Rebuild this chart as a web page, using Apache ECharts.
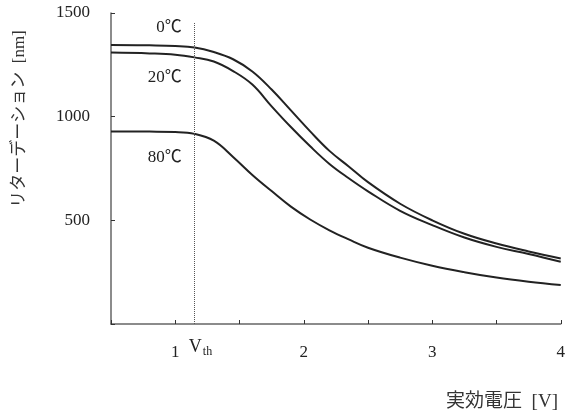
<!DOCTYPE html>
<html>
<head>
<meta charset="utf-8">
<script src="https://cdn.jsdelivr.net/npm/echarts@6/dist/echarts.min.js"></script>
<style>
    html, body { margin: 0; padding: 0; background: #fff; }
    #chart { width: 568px; height: 415px; }
</style>
</head>
<body>
<div id="chart"></div>
<script>
// 実効電圧 [V]
var voltage = [0.5, 0.8, 1.0, 1.15, 1.3, 1.45, 1.6, 1.75, 1.9, 2.05, 2.2, 2.35, 2.5, 2.75, 3.0, 3.25, 3.5, 3.75, 4.0];
// リターデーション [nm]
var ret0 = [1346, 1344, 1341, 1334, 1312, 1277, 1218, 1131, 1030, 929, 835, 760, 684, 580, 500, 435, 388, 350, 316];
var ret20 = [1309, 1305, 1299, 1286, 1266, 1220, 1155, 1050, 950, 857, 772, 703, 640, 546, 477, 417, 372, 338, 300];
var ret80 = [929, 928, 926, 917, 884, 806, 719, 641, 566, 504, 452, 408, 368, 320, 281, 250, 224, 204, 188];
var curveNames = ['0℃', '20℃', '80℃'];
var vth = 1.15;

var serif = '"Liberation Serif", "Noto Sans CJK JP", serif';
var lineColor = '#222';

function pairs(ys) {
    return voltage.map(function (v, i) { return [v, ys[i]]; });
}

// label anchors (right edge of each curve name)
var labelAnchors = [[1.05, 1428], [1.05, 1187], [1.05, 803]];

function curve(name, ys, idx) {
    return {
        name: name,
        type: 'line',
        data: pairs(ys),
        smooth: 0.4,
        symbol: 'none',
        lineStyle: { color: lineColor, width: 2 },
        markPoint: {
            symbol: 'circle',
            symbolSize: 0,
            label: {
                show: true,
                position: 'left',
                distance: 0,
                formatter: '{b}',
                color: '#222',
                fontSize: 17,
                fontFamily: serif
            },
            data: [{ name: name, coord: labelAnchors[idx] }]
        }
    };
}

var myChart = echarts.init(document.getElementById('chart'));
var option = {
    animation: false,
    backgroundColor: '#fff',
    grid: { left: 111, right: 5, top: 13, bottom: 91 },
    xAxis: {
        type: 'value',
        min: 0.5,
        max: 4,
        interval: 0.5,
        splitLine: { show: false },
        axisLine: { lineStyle: { color: '#666', width: 1.5 } },
        axisTick: { inside: true, length: 4, lineStyle: { color: '#333' } },
        axisLabel: {
            margin: 20,
            color: '#222',
            fontSize: 17,
            fontFamily: serif,
            formatter: function (v) { return v % 1 === 0 ? String(v) : ''; }
        }
    },
    yAxis: {
        type: 'value',
        min: 0,
        max: 1500,
        interval: 500,
        splitLine: { show: false },
        axisLine: { show: true, lineStyle: { color: '#666', width: 1.5 } },
        axisTick: { show: true, inside: true, length: 4, lineStyle: { color: '#333' } },
        axisLabel: {
            margin: 21,
            color: '#222',
            fontSize: 17,
            fontFamily: serif,
            formatter: function (v) { return v === 0 ? '' : String(v); }
        }
    },
    graphic: [
        {
            type: 'text',
            x: 20,
            y: 119,
            rotation: Math.PI / 2,
            style: {
                text: 'リターデーション  [nm]',
                fill: '#333',
                font: '17px ' + serif,
                align: 'center',
                verticalAlign: 'middle'
            }
        },
        {
            type: 'text',
            x: 558,
            y: 402,
            style: {
                text: '実効電圧  [V]',
                fill: '#333',
                font: '19px ' + serif,
                align: 'right',
                verticalAlign: 'middle'
            }
        }
    ],
    series: [
        curve(curveNames[0], ret0, 0),
        curve(curveNames[1], ret20, 1),
        curve(curveNames[2], ret80, 2),
        {
            type: 'line',
            data: [],
            markLine: {
                silent: true,
                symbol: 'none',
                lineStyle: { color: '#555', width: 1, type: 'dotted' },
                label: {
                    show: true,
                    position: 'start',
                    distance: 12,
                    formatter: '{v|V}{s|th}',
                    rich: {
                        v: { fontSize: 18, fontFamily: serif, color: '#222', padding: [0, 0, 0, 12] },
                        s: { fontSize: 12, fontFamily: serif, color: '#222', padding: [10, 0, 0, 1] }
                    }
                },
                data: [[{ coord: [vth, 0] }, { coord: [vth, 1457] }]]
            }
        }
    ]
};
myChart.setOption(option);
</script>
</body>
</html>
